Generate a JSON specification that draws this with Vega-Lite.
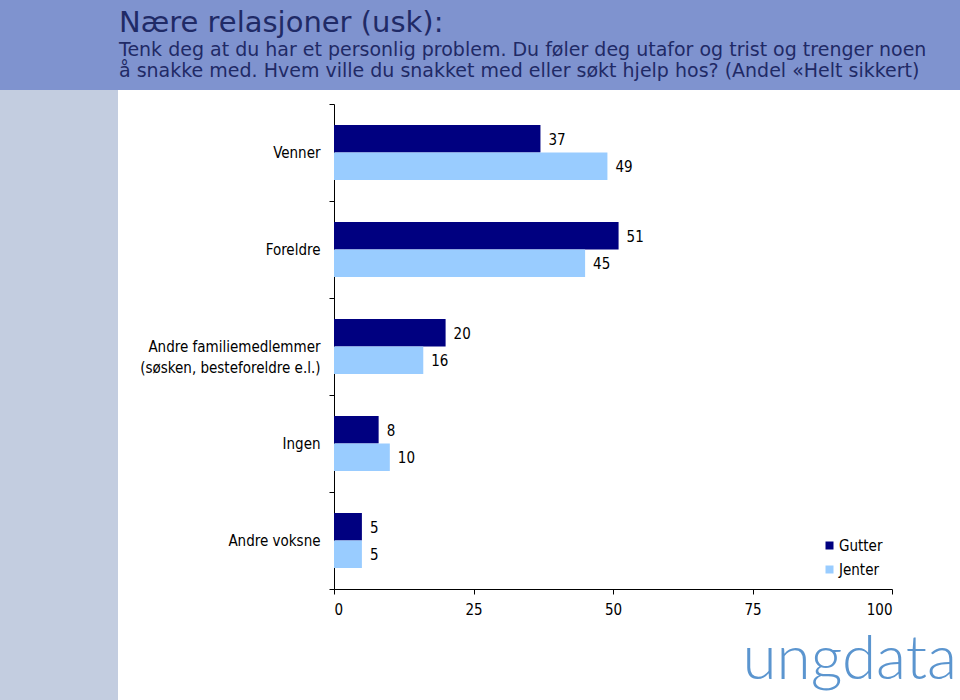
{
  "$schema": "https://vega.github.io/schema/vega-lite/v6.json",
  "background": "#7F93CF",
  "padding": {"top": 9, "left": 0, "right": 0, "bottom": 0},
  "spacing": 0,
  "config": {
    "view": {"stroke": null},
    "font": "DejaVu Sans Condensed",
    "concat": {"spacing": 0}
  },
  "title": {
    "text": "Nære relasjoner (usk):",
    "subtitle": [
      "Tenk deg at du har et personlig problem. Du føler deg utafor og trist og trenger noen",
      "å snakke med. Hvem ville du snakket med eller søkt hjelp hos? (Andel «Helt sikkert)"
    ],
    "anchor": "start",
    "frame": "group",
    "dx": 119,
    "fontSize": 29,
    "fontWeight": "normal",
    "font": "DejaVu Sans",
    "color": "#1F2A66",
    "subtitleFont": "DejaVu Sans",
    "subtitleFontSize": 19,
    "subtitleColor": "#1F2A66",
    "subtitleLineHeight": 21,
    "subtitlePadding": 3,
    "offset": 2
  },
  "datasets": {
    "answers": [
      {"category": "Venner", "gender": "Gutter", "value": 37},
      {"category": "Venner", "gender": "Jenter", "value": 49},
      {"category": "Foreldre", "gender": "Gutter", "value": 51},
      {"category": "Foreldre", "gender": "Jenter", "value": 45},
      {"category": "Andre familiemedlemmer (søsken, besteforeldre e.l.)", "gender": "Gutter", "value": 20},
      {"category": "Andre familiemedlemmer (søsken, besteforeldre e.l.)", "gender": "Jenter", "value": 16},
      {"category": "Ingen", "gender": "Gutter", "value": 8},
      {"category": "Ingen", "gender": "Jenter", "value": 10},
      {"category": "Andre voksne", "gender": "Gutter", "value": 5},
      {"category": "Andre voksne", "gender": "Jenter", "value": 5}
    ]
  },
  "hconcat": [
    {
      "width": 118,
      "height": 610,
      "view": {"fill": "#C3CDE0", "stroke": null},
      "data": {"values": [{"k": 1}]},
      "mark": {"type": "point", "opacity": 0},
      "encoding": {}
    },
    {
      "width": 842,
      "height": 610,
      "view": {"fill": "white", "stroke": null},
      "title": {
        "text": "ungdata",
        "orient": "bottom",
        "anchor": "end",
        "frame": "group",
        "offset": -70,
        "dx": -3,
        "font": "Lato",
        "fontWeight": 300,
        "fontSize": 62,
        "color": "#5B95CF"
      },
      "data": {"name": "answers"},
      "encoding": {
        "y": {
          "field": "category",
          "type": "nominal",
          "sort": null,
          "scale": {"range": [14, 499], "paddingInner": 0, "paddingOuter": 0},
          "axis": {
            "title": null,
            "offset": -216,
            "tickBand": "extent",
            "tickSize": 5,
            "tickColor": "black",
            "domainColor": "black",
            "labelPadding": 9,
            "labelFontSize": 15,
            "labelColor": "black",
            "labelLimit": 400,
            "labelLineHeight": 21,
            "labelFont": "DejaVu Sans Condensed",
            "labelExpr": "datum.value == 'Andre familiemedlemmer (søsken, besteforeldre e.l.)' ? ['Andre familiemedlemmer', '(søsken, besteforeldre e.l.)'] : datum.label"
          }
        },
        "yOffset": {
          "field": "gender",
          "type": "nominal",
          "scale": {"paddingInner": 0, "paddingOuter": 0.764}
        },
        "x": {
          "field": "value",
          "type": "quantitative",
          "scale": {"domain": [0, 100], "range": [216, 774], "nice": false},
          "axis": {
            "title": null,
            "values": [0, 25, 50, 75, 100],
            "grid": false,
            "offset": -111,
            "tickSize": 5,
            "tickColor": "black",
            "domainColor": "black",
            "labelPadding": 8,
            "labelFontSize": 15,
            "labelColor": "black",
            "labelFont": "DejaVu Sans Condensed"
          }
        }
      },
      "layer": [
        {
          "mark": {"type": "bar"},
          "encoding": {
            "color": {
              "field": "gender",
              "type": "nominal",
              "scale": {"domain": ["Gutter", "Jenter"], "range": ["#000080", "#99CCFF"]},
              "legend": {
                "title": null,
                "orient": "none",
                "legendX": 822,
                "legendY": 448,
                "symbolType": "square",
                "symbolSize": 64,
                "symbolStrokeWidth": 0,
                "labelFontSize": 15,
                "labelColor": "black",
                "labelFont": "DejaVu Sans Condensed",
                "rowPadding": 8,
                "labelOffset": 2
              }
            }
          }
        },
        {
          "mark": {"type": "text", "align": "left", "baseline": "middle", "dx": 8, "dy": 1, "fontSize": 15, "color": "black", "font": "DejaVu Sans Condensed"},
          "encoding": {
            "text": {"field": "value", "type": "quantitative"}
          }
        }
      ]
    }
  ]
}
